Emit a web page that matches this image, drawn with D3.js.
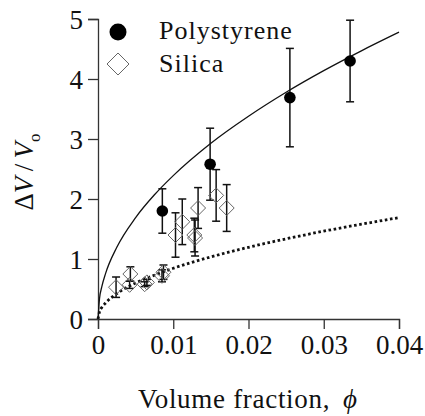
<!DOCTYPE html>
<html><head><meta charset="utf-8">
<script src="https://cdn.jsdelivr.net/npm/d3@7"></script>
<style>
body{margin:0;background:#fff;}
svg{display:block;}
</style></head>
<body><svg id="c" width="425" height="416"></svg>
<script>
const xTicks = [0, 0.01, 0.02, 0.03, 0.04];
const xTickLabels = ["0", "0.01", "0.02", "0.03", "0.04"];
const yTicks = [0, 1, 2, 3, 4, 5];
const yTickLabels = ["0", "1", "2", "3", "4", "5"];

const polyX = [0.00855, 0.0149, 0.0255, 0.0335];
const polyY = [1.80, 2.58, 3.69, 4.30];
const polyErr = [0.37, 0.60, 0.82, 0.68];

const silicaX = [0.0024, 0.0043, 0.0042, 0.0065, 0.0062, 0.0087, 0.0085, 0.0103, 0.0112, 0.0128, 0.0129, 0.0133, 0.0157, 0.0171];
const silicaY = [0.53, 0.75, 0.57, 0.61, 0.58, 0.78, 0.72, 1.40, 1.62, 1.40, 1.35, 1.85, 2.06, 1.85];
const silicaErr = [0.17, 0.12, 0.06, 0.05, 0.04, 0.12, 0.10, 0.37, 0.38, 0.28, 0.30, 0.34, 0.43, 0.39];

const curveX = [0, 0.0002, 0.0005, 0.001, 0.0025, 0.005, 0.0075, 0.01, 0.015, 0.02, 0.025, 0.03, 0.035, 0.04];
const solidY = [0, 0.338, 0.534, 0.756, 1.195, 1.69, 2.07, 2.39, 2.93, 3.38, 3.78, 4.14, 4.47, 4.78];
const dottedY = [0, 0.12, 0.19, 0.267, 0.423, 0.6, 0.73, 0.845, 1.035, 1.195, 1.336, 1.464, 1.58, 1.69];

const FONT = "Liberation Serif, Times New Roman, Times, Tinos, Noto Serif, DejaVu Serif, FreeSerif, serif";
const svg = d3.select("#c");
const x = d3.scaleLinear().domain([0, 0.04]).range([98, 399]);
const y = d3.scaleLinear().domain([0, 5]).range([319, 19]);

// axes
const xAxis = d3.axisBottom(x).tickValues(xTicks).tickSize(10).tickPadding(6)
  .tickFormat((d, i) => xTickLabels[i]);
const yAxis = d3.axisLeft(y).tickValues(yTicks).tickSize(10).tickPadding(5)
  .tickFormat((d, i) => yTickLabels[i]);
const gx = svg.append("g").attr("transform", `translate(0,${y(0)})`).call(xAxis);
const gy = svg.append("g").attr("transform", `translate(${x(0)},0)`).call(yAxis);
[gx, gy].forEach(g => {
  g.attr("font-family", FONT).attr("font-size", 27);
  g.selectAll("path.domain").attr("stroke", "#333").attr("stroke-width", 1.3);
  g.selectAll(".tick line").attr("stroke", "#333").attr("stroke-width", 1.3);
  g.selectAll(".tick text").style("font-family", FONT).attr("font-size", 27).attr("fill", "#111");
});
gy.selectAll(".tick text").attr("dy", "0.35em");

// curves
const line = d3.line().x(d => x(d[0])).y(d => y(d[1])).curve(d3.curveMonotoneX);
svg.append("path").datum(curveX.map((v, i) => [v, solidY[i]]))
  .attr("d", line).attr("fill", "none").attr("stroke", "#111").attr("stroke-width", 1.3);
svg.append("path").datum(curveX.map((v, i) => [v, dottedY[i]]))
  .attr("d", line).attr("fill", "none").attr("stroke", "#111").attr("stroke-width", 2.8)
  .attr("stroke-dasharray", "2.6,2.6");

// error bars
function errBars(xs, ys, es) {
  const g = svg.append("g").attr("stroke", "#111").attr("stroke-width", 1.5).attr("fill", "none");
  xs.forEach((xv, i) => {
    const cx = x(xv), t = y(ys[i] + es[i]), b = y(ys[i] - es[i]);
    g.append("line").attr("x1", cx).attr("x2", cx).attr("y1", t).attr("y2", b);
    g.append("line").attr("x1", cx - 4).attr("x2", cx + 4).attr("y1", t).attr("y2", t);
    g.append("line").attr("x1", cx - 4).attr("x2", cx + 4).attr("y1", b).attr("y2", b);
  });
}
errBars(silicaX, silicaY, silicaErr);
errBars(polyX, polyY, polyErr);

const diamond = (cx, cy, r) => `M${cx},${cy - r}L${cx + r},${cy}L${cx},${cy + r}L${cx - r},${cy}Z`;
svg.append("g").selectAll("path").data(silicaX).join("path")
  .attr("d", (d, i) => diamond(x(d), y(silicaY[i]), 7.5))
  .attr("fill", "none").attr("stroke", "#666").attr("stroke-width", 1);
svg.append("g").selectAll("circle").data(polyX).join("circle")
  .attr("cx", d => x(d)).attr("cy", (d, i) => y(polyY[i])).attr("r", 5.8).attr("fill", "#000");

// legend
svg.append("circle").attr("cx", 118).attr("cy", 32).attr("r", 8.5).attr("fill", "#000");
svg.append("path").attr("d", diamond(118, 64, 11)).attr("fill", "none").attr("stroke", "#666").attr("stroke-width", 1);
svg.append("text").attr("x", 159).attr("y", 39).style("font-family", FONT).attr("font-size", 26)
  .attr("letter-spacing", 1).attr("fill", "#111").text("Polystyrene");
svg.append("text").attr("x", 159).attr("y", 72).style("font-family", FONT).attr("font-size", 26)
  .attr("letter-spacing", 1).attr("fill", "#111").text("Silica");

// axis titles
svg.append("text").attr("x", 138).attr("y", 408).style("font-family", FONT).attr("font-size", 27)
  .attr("letter-spacing", 0.7).attr("fill", "#111").text("Volume fraction,");
svg.append("text").attr("x", 343).attr("y", 408).style("font-family", FONT).attr("font-size", 27).attr("fill", "#111")
  .attr("font-style", "italic").text("\u03D5");

const yt = svg.append("text").attr("transform", "translate(33,172) rotate(-90)")
  .attr("text-anchor", "middle").style("font-family", FONT).attr("font-size", 27).attr("fill", "#111");
yt.append("tspan").text("\u0394");
yt.append("tspan").attr("font-style", "italic").text("V");
yt.append("tspan").text("\u2009/\u2009");
yt.append("tspan").attr("font-style", "italic").text("V");
yt.append("tspan").attr("dy", 7).attr("font-size", 17).text("o");
</script></body></html>
